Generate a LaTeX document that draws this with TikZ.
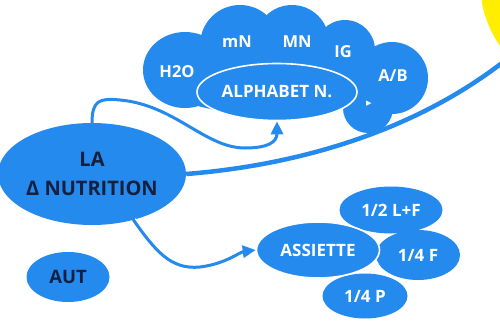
\documentclass[tikz,border=0pt]{standalone}
\usepackage{fontspec}
\setmainfont{Open Sans}
\newfontfamily\symfont{DejaVu Sans}
\usetikzlibrary{shapes.geometric,arrows.meta}
\definecolor{mapblue}{RGB}{36,138,238}
\definecolor{inkdark}{RGB}{22,32,62}
\definecolor{sunyellow}{RGB}{255,238,0}
\tikzset{
  bubble/.style={ellipse, fill=mapblue, inner sep=0pt, text=white, align=center,
    font=\bfseries\fontsize{17}{19}\selectfont},
  ringed/.style={bubble, draw=white, line width=1.6pt},
  darkbubble/.style={bubble, text=inkdark},
  lobe/.style={fill=mapblue},
  cloudtext/.style={text=white, font=\bfseries\fontsize{16.5}{18}\selectfont, inner sep=0pt},
  link/.style={draw=mapblue, line width=3pt, line cap=round,
    preaction={draw=white, line width=6pt}},
  tip/.style={-{Triangle[length=13pt,width=12pt]}}
}
\begin{document}
\begin{tikzpicture}[x=1pt,y=-1pt]
\useasboundingbox (0,0) rectangle (500,324);
\fill[white] (0,0) rectangle (500,324);

% sun in the corner
\fill[sunyellow] (592,-18) circle (112);

% cloud of nutrients
\fill[lobe] (185,70) ellipse (42 and 38);
\fill[lobe] (240,45) circle (40);
\fill[lobe] (292,42) circle (37);
\fill[lobe] (345,50) circle (30);
\fill[lobe] (392,78) circle (36);
\fill[lobe] (368,108) circle (25);
\fill[lobe] (275,80) ellipse (115 and 35);

\node[cloudtext] (h2o) at (177,72) {H2O};
\node[cloudtext] (mn) at (237,42) {mN};
\node[cloudtext] (bigmn) at (297,42) {MN};
\node[cloudtext] (ig) at (343,52) {IG};
\node[cloudtext] (ab) at (393,76) {A/B};
\node[text=white, inner sep=0pt, font=\symfont\fontsize{11}{11}\selectfont] (mark) at (369,104) {▸};

\node[ringed, minimum width=160pt, minimum height=57pt] (alpha) at (277,92) {ALPHABET N.};

% plate group
\node[bubble, minimum width=103pt, minimum height=47pt] (half) at (391,210) {1/2 L+F};
\node[bubble, minimum width=84pt, minimum height=50pt] (quartf) at (418,255) {1/4 F};
\node[bubble, minimum width=85pt, minimum height=45pt] (quartp) at (365,296) {1/4 P};
\node[ringed, minimum width=123pt, minimum height=56pt] (plate) at (318,250) {ASSIETTE};

% central topic and side topic
\node[darkbubble, minimum width=188pt, minimum height=102pt,
      font=\bfseries\fontsize{20}{29}\selectfont] (la) at (92,174) {LA\\Δ NUTRITION};
\node[darkbubble, minimum width=83pt, minimum height=50pt,
      font=\bfseries\fontsize{18.5}{20}\selectfont] (aut) at (68,277) {AUT};

% connectors
\coordinate (farright) at (512,55);
\draw[link, tip] (la.north) .. controls (92,100) and (100,98) .. (120,100)
  .. controls (175,105) and (205,148) .. (245,148)
  .. controls (268,148) and (277,142) .. (alpha.south);
\draw[draw=mapblue, line width=4.5pt] (la.east) .. controls (300,165) and (420,130) .. (farright);
\draw[link, tip] (la.-48) .. controls (155,250) and (170,270) .. (200,267)
  .. controls (225,264) and (240,252) .. (plate.west);
\end{tikzpicture}
\end{document}
